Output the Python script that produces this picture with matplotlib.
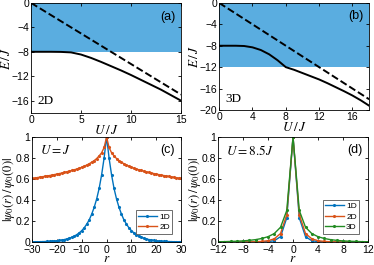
import matplotlib
matplotlib.use('Agg')
import matplotlib.pyplot as plt
import numpy as np

plt.rcParams['mathtext.fontset'] = 'stix'
plt.rcParams['font.family'] = ['Liberation Sans', 'DejaVu Sans']
plt.rcParams['xtick.direction'] = 'in'
plt.rcParams['ytick.direction'] = 'in'
plt.rcParams['xtick.top'] = True
plt.rcParams['ytick.right'] = True

# panel (a): 2D bound state energy
u_2d = [0, 1, 2, 3, 4, 5, 6, 7, 8, 9, 10, 11, 12, 13, 14, 15]
e_2d = [-8.0, -8.0, -8.0, -8.02, -8.1, -8.45, -9.0, -9.65, -10.35, -11.05,
        -11.8, -12.6, -13.4, -14.2, -15.1, -16.0]
edge_2d = -8

# panel (b): 3D bound state energy
u_3d = [0, 1, 2, 3, 4, 5, 6, 7, 8, 9, 10, 11, 12, 13, 14, 15, 16, 17, 18]
e_3d = [-8.0, -8.0, -8.0, -8.05, -8.3, -8.8, -9.6, -10.7, -12.0, -12.5,
        -13.1, -13.7, -14.3, -15.0, -15.75, -16.5, -17.3, -18.2, -19.2]
edge_3d = -12

# panel (c): wave functions at U = J, half profile r = 0..30 (symmetric)
half_c_1d = [1.0, 0.80, 0.64, 0.51, 0.41, 0.33, 0.265, 0.21, 0.17, 0.135, 0.108,
             0.087, 0.07, 0.056, 0.045, 0.036, 0.029, 0.023, 0.018, 0.015, 0.012,
             0.0095, 0.0076, 0.006, 0.0049, 0.0039, 0.0031, 0.0025, 0.002, 0.0016, 0.0013]
half_c_2d = [1.0, 0.9, 0.85, 0.82, 0.795, 0.775, 0.76, 0.745, 0.733, 0.722, 0.712,
             0.703, 0.695, 0.688, 0.681, 0.675, 0.669, 0.663, 0.657, 0.652, 0.647,
             0.642, 0.637, 0.633, 0.629, 0.625, 0.621, 0.617, 0.613, 0.609, 0.605]

# panel (d): wave functions at U = 8.5J, half profile r = 0..12 (symmetric)
half_d_1d = [1.0, 0.23, 0.05, 0.012, 0.003, 0.001, 0, 0, 0, 0, 0, 0, 0]
half_d_2d = [1.0, 0.26, 0.08, 0.03, 0.012, 0.005, 0.002, 0.001, 0, 0, 0, 0, 0]
half_d_3d = [1.0, 0.3, 0.14, 0.08, 0.05, 0.033, 0.022, 0.015, 0.01, 0.007, 0.005, 0.003, 0.002]


def mirror(half):
    return np.concatenate([half[:0:-1], half])


c_blue = '#0072BD'
c_orange = '#D95319'
c_green = '#228B22'
c_fill = '#5aade0'

fig = plt.figure(figsize=(3.74, 2.65), dpi=100)
ax_a = fig.add_axes([0.083, 0.574, 0.401, 0.415])
ax_b = fig.add_axes([0.586, 0.585, 0.401, 0.404])
ax_c = fig.add_axes([0.086, 0.087, 0.398, 0.396])
ax_d = fig.add_axes([0.583, 0.087, 0.401, 0.396])

tick_fs = 7.5
label_fs = 9.5

for ax, u, e, edge, xmax, ymin, xt, yt, lab, dim in [
        (ax_a, u_2d, e_2d, edge_2d, 15, -18, [0, 5, 10, 15], [0, -4, -8, -12, -16], '(a)', '2D'),
        (ax_b, u_3d, e_3d, edge_3d, 18, -20, [0, 4, 8, 12, 16], [0, -4, -8, -12, -16, -20], '(b)', '3D')]:
    ax.axhspan(edge, 0, color=c_fill, lw=0, zorder=0)
    ax.plot([0, xmax], [0, -xmax], 'k--', lw=1.4)
    ax.plot(u, e, 'k-', lw=1.4)
    ax.set_xlim(0, xmax)
    ax.set_ylim(ymin, 0)
    ax.set_xticks(xt)
    ax.set_yticks(yt)
    ax.tick_params(labelsize=tick_fs, length=2.5, width=0.6, pad=1.5)
    ax.set_xlabel(r'$U\,/\,J$', fontsize=label_fs, labelpad=-1)
    ax.set_ylabel(r'$E\,/\,J$', fontsize=label_fs, labelpad=-1)
    ax.text(0.96, 0.93, lab, transform=ax.transAxes, ha='right', va='top', fontsize=9)
    ax.text(0.04, 0.05, dim, transform=ax.transAxes, ha='left', va='bottom',
            fontsize=9.5, family='Liberation Serif')

r_c = np.arange(-30, 31)
ax_c.plot(r_c, mirror(half_c_1d), '-', color=c_blue, marker='.', ms=2.5, lw=1, label='1D')
ax_c.plot(r_c, mirror(half_c_2d), '-', color=c_orange, marker='.', ms=2.5, lw=1, label='2D')
ax_c.set_xlim(-30, 30)
ax_c.set_xticks([-30, -20, -10, 0, 10, 20, 30])
ax_c.text(0.05, 0.93, r'$U=J$', transform=ax_c.transAxes, ha='left', va='top', fontsize=9.5)
ax_c.text(0.96, 0.93, '(c)', transform=ax_c.transAxes, ha='right', va='top', fontsize=9)

r_d = np.arange(-12, 13)
ax_d.plot(r_d, mirror(half_d_1d), '-', color=c_blue, marker='.', ms=2.5, lw=1, label='1D')
ax_d.plot(r_d, mirror(half_d_2d), '-', color=c_orange, marker='.', ms=2.5, lw=1, label='2D')
ax_d.plot(r_d, mirror(half_d_3d), '-', color=c_green, marker='.', ms=2.5, lw=1, label='3D')
ax_d.set_xlim(-12, 12)
ax_d.set_xticks([-12, -8, -4, 0, 4, 8, 12])
ax_d.text(0.05, 0.93, r'$U=8.5J$', transform=ax_d.transAxes, ha='left', va='top', fontsize=9.5)
ax_d.text(0.96, 0.93, '(d)', transform=ax_d.transAxes, ha='right', va='top', fontsize=9)

for ax in (ax_c, ax_d):
    ax.set_ylim(0, 1)
    ax.set_yticks([0, 0.2, 0.4, 0.6, 0.8, 1])
    ax.set_yticklabels(['0', '0.2', '0.4', '0.6', '0.8', '1'])
    ax.tick_params(labelsize=tick_fs, length=2.5, width=0.6, pad=1.5)
    ax.tick_params(axis='x', pad=2)
    ax.set_xlabel(r'$r$', fontsize=label_fs, labelpad=-1)
    ax.set_ylabel(r'$|\psi_0(r)\,/\,\psi_0(0)|$', fontsize=9, labelpad=-1)
    leg = ax.legend(loc='lower right', bbox_to_anchor=(0.97, 0.04), fontsize=6,
                    handlelength=2.2, handletextpad=0.3, borderpad=0.3,
                    labelspacing=0.3, fancybox=False, framealpha=1)
    leg.get_frame().set_edgecolor('#555555')
    leg.get_frame().set_linewidth(0.6)

for ax in (ax_a, ax_b, ax_c, ax_d):
    for s in ax.spines.values():
        s.set_linewidth(0.6)

fig.savefig('out.png', dpi=100)
